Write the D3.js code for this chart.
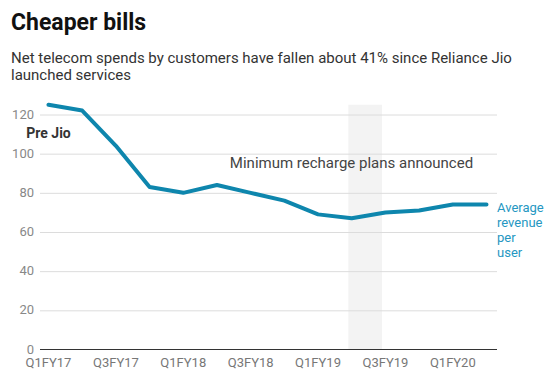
<!DOCTYPE html>
<html>
<head>
<meta charset="utf-8">
<script src="https://cdn.jsdelivr.net/npm/d3@7.9.0/dist/d3.min.js"></script>
<style>
  body { margin: 0; background: #fff; font-family: Roboto, "Noto Sans", sans-serif; }
  .grid line { stroke: #dcdcdc; }
  .grid path { display: none; }
</style>
</head>
<body>
<svg id="chart" width="556" height="382"></svg>
<script>
const quarters = ["Q1FY17", "Q2FY17", "Q3FY17", "Q4FY17", "Q1FY18", "Q2FY18", "Q3FY18",
  "Q4FY18", "Q1FY19", "Q2FY19", "Q3FY19", "Q4FY19", "Q1FY20", "Q2FY20"];
const arpu = [125, 122, 104, 83, 80, 84, 80, 76, 69, 67, 70, 71, 74, 74];
const xTickLabels = ["Q1FY17", "Q3FY17", "Q1FY18", "Q3FY18", "Q1FY19", "Q3FY19", "Q1FY20"];
const yTicks = [0, 20, 40, 60, 80, 100, 120];
const band = { from: 8.9, to: 9.9, top: 125 }; // in quarter index / value units

const svg = d3.select("#chart");
const lineColor = "#0e86ad";

// title + subtitle
svg.append("text")
    .attr("x", 11).attr("y", 30)
    .style("font-size", "23px").style("font-weight", "bold").style("fill", "#111")
    .text("Cheaper bills");

const sub = svg.append("text")
    .style("font-size", "15px").style("fill", "#333");
sub.append("tspan").attr("x", 11).attr("y", 63)
    .text("Net telecom spends by customers have fallen about 41% since Reliance Jio");
sub.append("tspan").attr("x", 11).attr("y", 80)
    .text("launched services");

const x = d3.scaleLinear().domain([0, quarters.length - 1]).range([48.5, 486.5]);
const y = d3.scaleLinear().domain([0, 120]).range([349.5, 114.5]);
const gridLeft = 40, gridRight = 497;

// shaded period
svg.append("rect")
    .attr("x", x(band.from))
    .attr("y", y(band.top))
    .attr("width", x(band.to) - x(band.from))
    .attr("height", y(0) - y(band.top))
    .style("fill", "#f3f3f3");

// gridlines
svg.append("g")
    .attr("class", "grid")
    .attr("transform", `translate(${gridLeft},0)`)
    .call(d3.axisLeft(y).tickValues(yTicks.filter(d => d > 0)).tickSize(-(gridRight - gridLeft)).tickFormat(""));

// y labels
svg.append("g").selectAll("text")
    .data(yTicks)
    .enter().append("text")
    .attr("x", 34)
    .attr("y", d => y(d) + 4)
    .attr("text-anchor", "end")
    .style("font-size", "13px").style("fill", "#888")
    .text(d => d);

// baseline
svg.append("line")
    .attr("x1", gridLeft).attr("x2", gridRight)
    .attr("y1", y(0)).attr("y2", y(0))
    .style("stroke", "#333").style("stroke-width", 1);

// x labels
svg.append("g").selectAll("text")
    .data(xTickLabels)
    .enter().append("text")
    .attr("x", d => x(quarters.indexOf(d)))
    .attr("y", 367)
    .attr("text-anchor", "middle")
    .style("font-size", "13px").style("fill", "#777")
    .text(d => d);

// the line
const line = d3.line()
    .x((d, i) => x(i))
    .y(d => y(d));

svg.append("path")
    .datum(arpu)
    .attr("d", line)
    .style("fill", "none")
    .style("stroke", lineColor)
    .style("stroke-width", 4)
    .style("stroke-linejoin", "round")
    .style("stroke-linecap", "round");

// annotations
svg.append("text")
    .attr("x", x(0)).attr("y", 138)
    .attr("text-anchor", "middle")
    .style("font-size", "14px").style("font-weight", "bold").style("fill", "#333")
    .text("Pre Jio");

svg.append("text")
    .attr("x", 351.5).attr("y", 168)
    .attr("text-anchor", "middle")
    .style("font-size", "15px").style("fill", "#444")
    .text("Minimum recharge plans announced");

const endLabel = svg.append("text")
    .style("font-size", "13px").style("fill", "#2597c2");
["Average", "revenue", "per", "user"].forEach((w, i) => {
    endLabel.append("tspan")
        .attr("x", 497)
        .attr("y", y(arpu[arpu.length - 1]) + 7 + i * 15)
        .text(w);
});
</script>
</body>
</html>
